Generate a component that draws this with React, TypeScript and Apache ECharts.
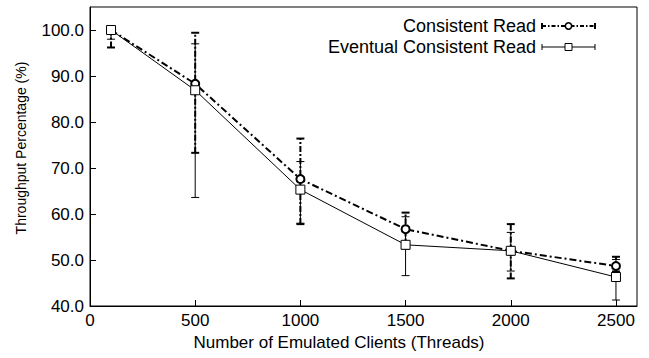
import React, { useEffect, useRef } from "react";
import * as echarts from "echarts";

const threads = [100, 500, 1000, 1500, 2000, 2500];
const consistentMean = [100.0, 88.3, 67.6, 56.7, 52.0, 48.7];
const consistentLow = [96.2, 73.3, 57.8, 52.5, 46.0, 47.5];
const consistentHigh = [100.2, 99.4, 76.4, 60.3, 57.8, 50.7];
const eventualMean = [100.0, 86.9, 65.3, 53.3, 52.0, 46.3];
const eventualLow = [98.0, 63.6, 58.0, 46.6, 47.6, 41.3];
const eventualHigh = [100.2, 97.0, 71.4, 59.4, 56.0, 50.1];

const seriesNames = ["Consistent Read", "Eventual Consistent Read"];
const xTitle = "Number of Emulated Clients (Threads)";
const yTitle = "Throughput Percentage (%)";

const FONT = "'Liberation Sans', Arial, Helvetica, sans-serif";
const DASHDOT = [7, 3, 2, 3];

function errRender(lineWidth: number, dash: number[] | null) {
  return (params: any, api: any) => {
    const x = api.value(0);
    const lo = api.value(1);
    const hi = api.value(2);
    const p1 = api.coord([x, lo]);
    const p2 = api.coord([x, hi]);
    const w = 4;
    const st: any = { stroke: "#000", lineWidth, fill: "none" };
    if (dash) st.lineDash = dash;
    const capSt: any = { stroke: "#000", lineWidth: lineWidth };
    return {
      type: "group",
      children: [
        { type: "line", shape: { x1: p1[0], y1: p1[1], x2: p2[0], y2: p2[1] }, style: st },
        { type: "line", shape: { x1: p1[0] - w, y1: p1[1], x2: p1[0] + w, y2: p1[1] }, style: capSt },
        { type: "line", shape: { x1: p2[0] - w, y1: p2[1], x2: p2[0] + w, y2: p2[1] }, style: capSt },
      ],
    };
  };
}

function legendItem(y: number, label: string, bold: boolean, symbol: "circle" | "square") {
  const x1 = 542;
  const x2 = 595;
  const xc = (x1 + x2) / 2;
  const lw = bold ? 2 : 1;
  const lineStyle: any = { stroke: "#000", lineWidth: lw };
  if (bold) lineStyle.lineDash = [4, 2, 1.5, 2];
  const marker =
    symbol === "circle"
      ? { type: "circle", shape: { cx: xc, cy: y, r: 3.2 }, style: { fill: "#fff", stroke: "#000", lineWidth: 1.6 } }
      : { type: "rect", shape: { x: xc - 3.5, y: y - 3.5, width: 7, height: 7 }, style: { fill: "#fff", stroke: "#000", lineWidth: 1 } };
  return [
    {
      type: "text",
      x: 536,
      y: y,
      style: { text: label, font: `18px ${FONT}`, fill: "#000", textAlign: "right", textVerticalAlign: "middle" },
    },
    { type: "line", shape: { x1, y1: y, x2, y2: y }, style: lineStyle },
    { type: "line", shape: { x1, y1: y - 3, x2: x1, y2: y + 3 }, style: { stroke: "#000", lineWidth: lw } },
    { type: "line", shape: { x1: x2, y1: y - 3, x2: x2, y2: y + 3 }, style: { stroke: "#000", lineWidth: lw } },
    marker,
  ];
}

export default function App() {
  const ref = useRef<HTMLDivElement>(null);
  useEffect(() => {
    if (!ref.current) return;
    const chart = echarts.init(ref.current, null, { renderer: "svg" });
    const cErr = threads.map((t, i) => [t, consistentLow[i], consistentHigh[i]]);
    const eErr = threads.map((t, i) => [t, eventualLow[i], eventualHigh[i]]);
    const cLine = threads.map((t, i) => [t, consistentMean[i]]);
    const eLine = threads.map((t, i) => [t, eventualMean[i]]);
    chart.setOption({
      animation: false,
      backgroundColor: "#fff",
      grid: { left: 90, right: 12, top: 7, bottom: 52, show: true, borderColor: "#000", borderWidth: 1, backgroundColor: "transparent" },
      xAxis: {
        type: "value",
        min: 0,
        max: 2600,
        interval: 500,
        axisLine: { show: true, lineStyle: { color: "#000", width: 1 } },
        axisTick: { show: true, inside: true, length: 6, lineStyle: { color: "#000" } },
        splitLine: { show: false },
        axisLabel: {
          color: "#000",
          fontSize: 17,
          fontFamily: FONT,
          margin: 6,
          showMaxLabel: false,
          formatter: (v: number) => (v > 2500 ? "" : String(v)),
        },
      },
      yAxis: {
        type: "value",
        min: 40,
        max: 105,
        interval: 10,
        axisLine: { show: true, lineStyle: { color: "#000", width: 1 } },
        axisTick: { show: true, inside: true, length: 6, lineStyle: { color: "#000" } },
        splitLine: { show: false },
        axisLabel: {
          color: "#000",
          fontSize: 17,
          fontFamily: FONT,
          margin: 6,
          showMaxLabel: false,
          formatter: (v: number) => (v > 100.5 ? "" : v.toFixed(1)),
        },
      },
      graphic: [
        {
          type: "text",
          x: 339,
          y: 342,
          style: { text: xTitle, font: `17px ${FONT}`, fill: "#000", textAlign: "center", textVerticalAlign: "middle" },
        },
        {
          type: "text",
          x: 21,
          y: 148,
          rotation: Math.PI / 2,
          style: { text: yTitle, font: `14px ${FONT}`, fill: "#000", textAlign: "center", textVerticalAlign: "middle" },
        },
        ...legendItem(26, seriesNames[0], true, "circle"),
        ...legendItem(47, seriesNames[1], false, "square"),
      ],
      series: [
        {
          type: "custom",
          name: seriesNames[0] + " error",
          renderItem: errRender(2, [6, 2, 2, 2]),
          data: cErr,
          encode: { x: 0, y: [1, 2] },
          z: 2,
        },
        {
          type: "custom",
          name: seriesNames[1] + " error",
          renderItem: errRender(1, null),
          data: eErr,
          encode: { x: 0, y: [1, 2] },
          z: 2,
        },
        {
          type: "line",
          name: seriesNames[0],
          data: cLine,
          symbol: "circle",
          symbolSize: 8,
          lineStyle: { color: "#000", width: 2, type: DASHDOT },
          itemStyle: { color: "#fff", borderColor: "#000", borderWidth: 2 },
          z: 3,
        },
        {
          type: "line",
          name: seriesNames[1],
          data: eLine,
          symbol: "rect",
          symbolSize: 9,
          lineStyle: { color: "#000", width: 1, type: "solid" },
          itemStyle: { color: "#fff", borderColor: "#000", borderWidth: 1 },
          z: 4,
        },
      ],
    });
    return () => chart.dispose();
  }, []);
  return <div ref={ref} style={{ width: 649, height: 358, position: "absolute", left: 0, top: 0 }} />;
}
